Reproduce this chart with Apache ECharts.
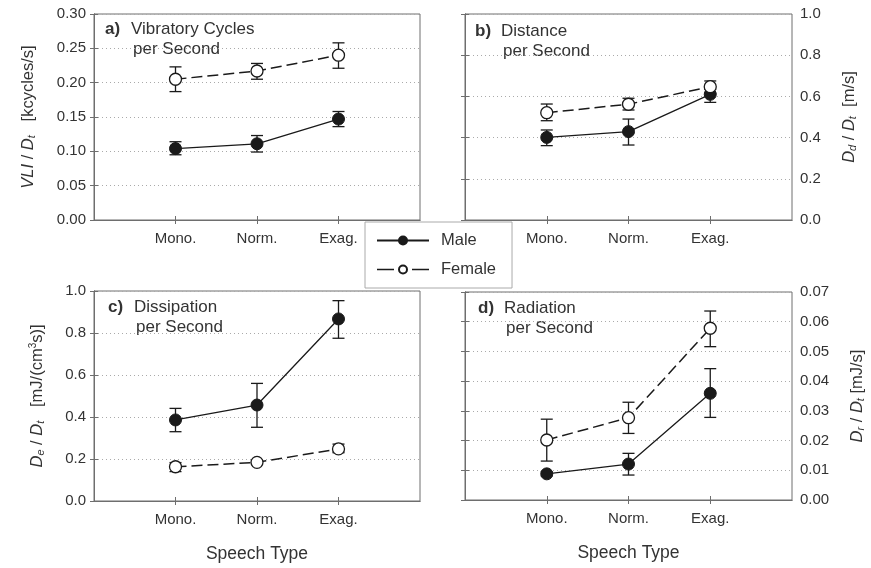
<!DOCTYPE html>
<html>
<head>
<meta charset="utf-8">
<script src="https://cdn.jsdelivr.net/npm/echarts@6/dist/echarts.min.js"></script>
<style>
  html, body { margin: 0; padding: 0; background: #fff; }
  #chart { width: 871px; height: 568px; }
</style>
</head>
<body>
<div id="chart"></div>
<script>
// Speech types on the x axis (placed at 1, 2, 3 on a 0..4 scale)
const categories = ['Mono.', 'Norm.', 'Exag.'];
const categoryPositions = [1, 2, 3];

// a) Vibratory cycles per second [kcycles/s]
const vibMale = [0.104, 0.111, 0.147];
const vibMaleLo = [0.095, 0.099, 0.136];
const vibMaleHi = [0.114, 0.123, 0.158];
const vibFemale = [0.205, 0.217, 0.240];
const vibFemaleLo = [0.187, 0.205, 0.221];
const vibFemaleHi = [0.223, 0.228, 0.258];

// b) Distance per second [m/s]
const distMale = [0.401, 0.429, 0.610];
const distMaleLo = [0.361, 0.364, 0.571];
const distMaleHi = [0.437, 0.490, 0.634];
const distFemale = [0.521, 0.562, 0.647];
const distFemaleLo = [0.482, 0.534, 0.615];
const distFemaleHi = [0.563, 0.591, 0.675];

// c) Dissipation per second [mJ/(cm^3 s)]
const dissMale = [0.386, 0.457, 0.867];
const dissMaleLo = [0.330, 0.351, 0.775];
const dissMaleHi = [0.441, 0.560, 0.954];
const dissFemale = [0.163, 0.184, 0.248];
const dissFemaleLo = [0.140, 0.176, 0.230];
const dissFemaleHi = [0.183, 0.194, 0.271];

// d) Radiation per second [mJ/s]
const radMale = [0.0088, 0.0121, 0.0359];
const radMaleLo = [0.0081, 0.0084, 0.0278];
const radMaleHi = [0.0095, 0.0157, 0.0442];
const radFemale = [0.0202, 0.0277, 0.0578];
const radFemaleLo = [0.0131, 0.0224, 0.0516];
const radFemaleHi = [0.0272, 0.0329, 0.0636];

// y axis ranges: [max, interval, decimals]
const vibAxis = [0.30, 0.05, 2];
const distAxis = [1.0, 0.2, 1];
const dissAxis = [1.0, 0.2, 1];
const radAxis = [0.07, 0.01, 2];

const FONT = 'Liberation Sans, Arial, sans-serif';
const TEXT = '#333';
const FRAME = '#6e6e6e';
const INK = '#1a1a1a';

const panels = [
  { grid: { left: 94, top: 14, width: 326, height: 206 }, side: 'left', axis: vibAxis,
    male: [vibMale, vibMaleLo, vibMaleHi], female: [vibFemale, vibFemaleLo, vibFemaleHi],
    name: '{i|VLI} / {i|D}{s|t}   [kcycles/s]', nameGap: 57, xName: '',
    tag: 'a)', line1: 'Vibratory Cycles', tx: 105, ty: 31 },
  { grid: { left: 465, top: 14, width: 327, height: 206 }, side: 'right', axis: distAxis,
    male: [distMale, distMaleLo, distMaleHi], female: [distFemale, distFemaleLo, distFemaleHi],
    name: '{i|D}{s|d} / {i|D}{s|t}  [m/s]', nameGap: 48, xName: '',
    tag: 'b)', line1: 'Distance', tx: 475, ty: 33 },
  { grid: { left: 94, top: 291, width: 326, height: 210 }, side: 'left', axis: dissAxis,
    male: [dissMale, dissMaleLo, dissMaleHi], female: [dissFemale, dissFemaleLo, dissFemaleHi],
    name: '{i|D}{s|e} / {i|D}{s|t}   [mJ/(cm{p|3}s)]', nameGap: 48, xName: 'Speech Type',
    tag: 'c)', line1: 'Dissipation', tx: 108, ty: 309 },
  { grid: { left: 465, top: 292, width: 327, height: 208 }, side: 'right', axis: radAxis,
    male: [radMale, radMaleLo, radMaleHi], female: [radFemale, radFemaleLo, radFemaleHi],
    name: '{i|D}{s|r} / {i|D}{s|t} [mJ/s]', nameGap: 56, xName: 'Speech Type',
    tag: 'd)', line1: 'Radiation', tx: 478, ty: 310 }
];

const nameRich = {
  i: { fontStyle: 'italic', fontSize: 16.5, fontFamily: FONT, color: TEXT },
  s: { fontStyle: 'italic', fontSize: 11, fontFamily: FONT, color: TEXT, verticalAlign: 'bottom', padding: [7, 0, 0, 0] },
  p: { fontSize: 10, fontFamily: FONT, color: TEXT, verticalAlign: 'top', padding: [0, 0, 6, 0] }
};

const grids = [], xAxes = [], yAxes = [], series = [], graphics = [];

function errorSeries(gi, mean, lo, hi) {
  return {
    type: 'custom', xAxisIndex: gi * 2, yAxisIndex: gi * 2, z: 2, silent: true,
    data: mean.map((v, k) => [categoryPositions[k], lo[k], hi[k]]),
    renderItem: function (params, api) {
      const x = api.value(0);
      const a = api.coord([x, api.value(1)]);
      const b = api.coord([x, api.value(2)]);
      const half = 6;
      const st = { stroke: INK, lineWidth: 1.3 };
      return { type: 'group', children: [
        { type: 'line', shape: { x1: a[0], y1: a[1], x2: b[0], y2: b[1] }, style: st },
        { type: 'line', shape: { x1: a[0] - half, y1: a[1], x2: a[0] + half, y2: a[1] }, style: st },
        { type: 'line', shape: { x1: b[0] - half, y1: b[1], x2: b[0] + half, y2: b[1] }, style: st }
      ] };
    }
  };
}

panels.forEach((p, gi) => {
  grids.push(Object.assign({ show: true, borderColor: FRAME, borderWidth: 1, backgroundColor: 'transparent' }, p.grid));
  const [ymax, yint, dec] = p.axis;
  // bottom axis carrying the speech-type labels
  xAxes.push({
    type: 'value', gridIndex: gi, min: 0, max: 4, interval: 1, position: 'bottom',
    name: p.xName, nameLocation: 'middle', nameGap: 44,
    nameTextStyle: { fontSize: 17.5, fontFamily: FONT, color: TEXT },
    axisLine: { show: true, lineStyle: { color: FRAME } },
    axisTick: { show: true, length: 4, customValues: categoryPositions, lineStyle: { color: FRAME } },
    axisLabel: { margin: 11, fontSize: 15, fontFamily: FONT, color: TEXT,
      formatter: v => categories[categoryPositions.indexOf(v)] || '' },
    splitLine: { show: false }
  });
  // top mirror axis (ticks only)
  xAxes.push({
    type: 'value', gridIndex: gi, min: 0, max: 4, interval: 1, position: 'top',
    axisLine: { show: true, lineStyle: { color: FRAME } },
    axisTick: { show: true, length: 4, customValues: categoryPositions, lineStyle: { color: FRAME } },
    axisLabel: { show: false }, splitLine: { show: false }
  });
  yAxes.push({
    type: 'value', gridIndex: gi, min: 0, max: ymax, interval: yint, position: p.side,
    name: p.name, nameLocation: 'middle', nameGap: p.nameGap, nameRotate: 90,
    nameTextStyle: { fontSize: 16.5, fontFamily: FONT, color: TEXT, rich: nameRich },
    axisLine: { show: true, lineStyle: { color: FRAME } },
    axisTick: { show: true, length: 4, lineStyle: { color: FRAME } },
    axisLabel: { margin: 8, fontSize: 15, fontFamily: FONT, color: TEXT, formatter: v => v.toFixed(dec) },
    splitLine: { show: true, lineStyle: { color: '#aaa', type: [1, 3], width: 1 } }
  });
  yAxes.push({
    type: 'value', gridIndex: gi, min: 0, max: ymax, interval: yint,
    position: p.side === 'left' ? 'right' : 'left',
    axisLine: { show: true, lineStyle: { color: FRAME } },
    axisTick: { show: true, length: 4, lineStyle: { color: FRAME } },
    axisLabel: { show: false }, splitLine: { show: false }
  });

  series.push(errorSeries(gi, p.male[0], p.male[1], p.male[2]));
  series.push(errorSeries(gi, p.female[0], p.female[1], p.female[2]));
  series.push({
    name: 'Male', type: 'line', xAxisIndex: gi * 2, yAxisIndex: gi * 2, z: 3,
    data: p.male[0].map((v, k) => [categoryPositions[k], v]),
    symbol: 'circle', symbolSize: 12,
    lineStyle: { color: INK, width: 1.3 },
    itemStyle: { color: INK, borderColor: INK, borderWidth: 1 },
    emphasis: { disabled: true }
  });
  series.push({
    name: 'Female', type: 'line', xAxisIndex: gi * 2, yAxisIndex: gi * 2, z: 3,
    data: p.female[0].map((v, k) => [categoryPositions[k], v]),
    symbol: 'circle', symbolSize: 12,
    lineStyle: { color: INK, width: 1.5, type: [11, 5] },
    itemStyle: { color: '#fff', borderColor: INK, borderWidth: 1.3 },
    emphasis: { disabled: true }
  });

  graphics.push({ type: 'text', left: p.tx, top: p.ty - 10,
    style: { text: p.tag, font: 'bold 17px ' + FONT, fill: TEXT } });
  graphics.push({ type: 'text', left: p.tx + 26, top: p.ty - 10,
    style: { text: p.line1, font: '17px ' + FONT, fill: TEXT } });
  graphics.push({ type: 'text', left: p.tx + 28, top: p.ty + 10,
    style: { text: 'per Second', font: '17px ' + FONT, fill: TEXT } });
});

const chart = echarts.init(document.getElementById('chart'), null, { renderer: 'canvas' });
chart.setOption({
  backgroundColor: '#fff',
  animation: false,
  grid: grids,
  xAxis: xAxes,
  yAxis: yAxes,
  series: series,
  graphic: graphics,
  legend: {
    data: [
      { name: 'Male' },
      { name: 'Female', lineStyle: { type: [17, 18], width: 1.3 } }
    ],
    orient: 'vertical', left: 365, top: 222,
    itemWidth: 52, itemHeight: 10, itemGap: 12,
    padding: [10, 16, 10, 11],
    backgroundColor: '#fff', borderColor: '#aaa', borderWidth: 1,
    textStyle: { fontSize: 16.5, fontFamily: FONT, color: TEXT, padding: [0, 0, 0, 7] },
    selectedMode: false
  }
});
</script>
</body>
</html>
